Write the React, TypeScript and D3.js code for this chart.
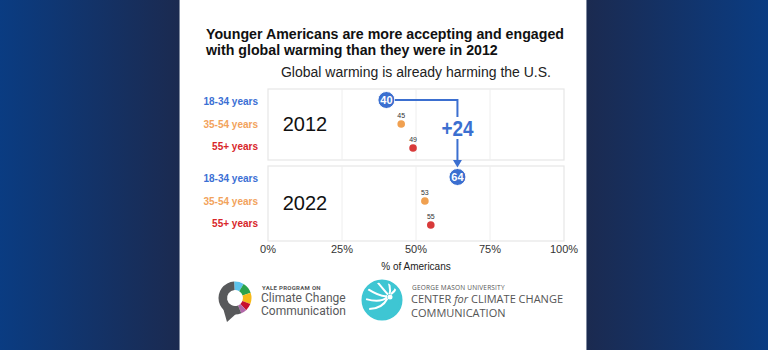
import React from "react";
import * as d3 from "d3";

const ages = ["18-34 years", "35-54 years", "55+ years"];
const years = ["2012", "2022"];
const values2012 = [40, 45, 49];
const values2022 = [64, 53, 55];
const ticks = [0, 25, 50, 75, 100];
const ageColors = ["#3f6fcf", "#f0a050", "#d83a3a"];
const labelColors = ["#3b6fd4", "#f2a35c", "#d8262a"];

const W = 768;
const H = 350;

export default function App() {
  const x = d3.scaleLinear().domain([0, 100]).range([268, 564]);
  const panels = [
    { top: 89, bottom: 160, values: values2012, year: years[0] },
    { top: 166, bottom: 241, values: values2022, year: years[1] },
  ];
  const rowScale = (p: { top: number }) =>
    d3.scalePoint<string>().domain(ages).range([p.top + 11, p.top + 59]);

  const y1 = rowScale(panels[0]);
  const y2 = rowScale(panels[1]);
  const startX = x(values2012[0]);
  const startY = y1(ages[0])!;
  const endX = x(values2022[0]);
  const endY = y2(ages[0])!;
  const diff = values2022[0] - values2012[0];
  const blue = "#3b6fd0";

  const font = "Liberation Sans, Arial, sans-serif";

  const ringArc = d3.arc<any>().innerRadius(8).outerRadius(16.5);
  const ringSegs = [
    { s: -0.05, e: 0.55, c: "#5cc3ec" },
    { s: 0.55, e: 1.25, c: "#2ba24c" },
    { s: 1.25, e: 1.95, c: "#f6b918" },
    { s: 1.95, e: 2.4, c: "#c8102e" },
    { s: 2.4, e: 2.75, c: "#b267a8" },
    { s: 2.75, e: 6.23, c: "#58595b" },
  ];

  return (
    <svg
      width={W}
      height={H}
      style={{ position: "absolute", left: 0, top: 0 }}
      fontFamily={font}
    >
      <defs>
        <linearGradient id="bgL" x1="0" x2="1" y1="0" y2="0">
          <stop offset="0%" stopColor="#0a3c82" />
          <stop offset="100%" stopColor="#1b2a50" />
        </linearGradient>
        <linearGradient id="bgR" x1="0" x2="1" y1="0" y2="0">
          <stop offset="0%" stopColor="#1b2a50" />
          <stop offset="100%" stopColor="#0a3c82" />
        </linearGradient>
      </defs>
      <rect x={0} y={0} width={180} height={H} fill="url(#bgL)" />
      <rect x={586} y={0} width={W - 586} height={H} fill="url(#bgR)" />
      <rect x={180} y={0} width={406} height={H} fill="#ffffff" />
      <line x1={179.5} x2={179.5} y1={0} y2={H} stroke="#7f8aa0" strokeWidth={1} />
      <line x1={586.5} x2={586.5} y1={0} y2={H} stroke="#7f8aa0" strokeWidth={1} />

      {/* Title */}
      <text x={206} y={38.5} fontSize={14.2} fontWeight="bold" fill="#111">
        Younger Americans are more accepting and engaged
      </text>
      <text x={206} y={55} fontSize={14.2} fontWeight="bold" fill="#111">
        with global warming than they were in 2012
      </text>
      <text x={416} y={77} fontSize={14} textAnchor="middle" fill="#222">
        Global warming is already harming the U.S.
      </text>

      {/* Panels */}
      {panels.map((p) => {
        const yS = rowScale(p);
        return (
          <g key={p.year}>
            <rect
              x={x(0)}
              y={p.top}
              width={x(100) - x(0)}
              height={p.bottom - p.top}
              fill="#fff"
              stroke="#e6e6e6"
              strokeWidth={1.2}
            />
            {ticks.slice(1, -1).map((t) => (
              <line
                key={t}
                x1={x(t)}
                x2={x(t)}
                y1={p.top}
                y2={p.bottom}
                stroke="#eeeeee"
                strokeWidth={1}
              />
            ))}
            <text
              x={305}
              y={(p.top + p.bottom) / 2 + 6.5}
              fontSize={20}
              textAnchor="middle"
              fill="#111"
            >
              {p.year}
            </text>
            {ages.map((a, i) => (
              <text
                key={a}
                x={258}
                y={yS(a)! + 4 - (i === 2 ? 2 : 0) + (i === 0 ? 1 : 0)}
                fontSize={10}
                fontWeight="bold"
                textAnchor="end"
                fill={labelColors[i]}
              >
                {a}
              </text>
            ))}
            {ages.map((a, i) => {
              const v = p.values[i];
              const cx = x(v);
              const cy = yS(a)!;
              if (i === 0) {
                return (
                  <g key={a}>
                    <circle cx={cx} cy={cy} r={8.5} fill={blue} stroke="#fff" strokeWidth={1} />
                    <text
                      x={cx}
                      y={cy + 4}
                      fontSize={11}
                      fontWeight="bold"
                      textAnchor="middle"
                      fill="#fff"
                    >
                      {v}
                    </text>
                  </g>
                );
              }
              return (
                <g key={a}>
                  <circle cx={cx} cy={cy} r={3.8} fill={ageColors[i]} />
                  <text x={cx} y={cy - 6} fontSize={7} textAnchor="middle" fill="#333">
                    {v}
                  </text>
                </g>
              );
            })}
          </g>
        );
      })}

      {/* Connector */}
      <path
        d={`M${startX + 8.5},${startY} H${endX} V${startY + 17}`}
        fill="none"
        stroke={blue}
        strokeWidth={2}
      />
      <path
        d={`M${endX},${startY + 39} V${endY - 16}`}
        fill="none"
        stroke={blue}
        strokeWidth={2}
      />
      <path
        d={`M${endX - 4.5},${endY - 17} L${endX + 4.5},${endY - 17} L${endX},${endY - 9.5} Z`}
        fill={blue}
      />
      <text
        x={endX}
        y={startY + 36}
        fontSize={22}
        fontWeight="bold"
        textAnchor="middle"
        fill={blue}
        textLength={32}
        lengthAdjust="spacingAndGlyphs"
      >
        {`+${diff}`}
      </text>

      {/* Axis */}
      {ticks.map((t) => (
        <text key={t} x={x(t)} y={253} fontSize={11} textAnchor="middle" fill="#333">
          {`${t}%`}
        </text>
      ))}
      <text x={x(50)} y={270} fontSize={10} textAnchor="middle" fill="#222">
        % of Americans
      </text>

      {/* Yale logo */}
      <g transform="translate(235,298)">
        <path d="M-12,10 L-8,24 L2,15 Z" fill="#58595b" />
        {ringSegs.map((s, i) => (
          <path key={i} d={ringArc({ startAngle: s.s, endAngle: s.e }) as string} fill={s.c} />
        ))}
      </g>
      <text x={262} y={290} fontSize={6} fontWeight="bold" fill="#555" fontFamily="Roboto, sans-serif" letterSpacing={0.3}>
        YALE PROGRAM ON
      </text>
      <text x={261} y={301.5} fontSize={12} fill="#58595b" fontFamily="Roboto, sans-serif">
        Climate Change
      </text>
      <text x={261} y={315} fontSize={12} fill="#58595b" fontFamily="Roboto, sans-serif">
        Communication
      </text>

      {/* GMU logo */}
      <g transform="translate(382,300)">
        <circle r={19} fill="#3ec6d3" />
        {[-160, -130, -100, -70, 150, 175].map((a, i) => {
          const r0 = 3;
          const rad = (a * Math.PI) / 180;
          const x0 = 8 + r0 * Math.cos(rad);
          const y0 = -3 + r0 * Math.sin(rad);
          const xe = 8 + 24 * Math.cos(rad);
          const ye = -3 + 24 * Math.sin(rad);
          return (
            <path
              key={i}
              d={`M${x0},${y0} Q${(x0 + xe) / 2 + 4},${(y0 + ye) / 2 + 5} ${xe},${ye}`}
              fill="none"
              stroke="#fff"
              strokeWidth={2}
            />
          );
        })}
        <circle cx={8} cy={-3} r={2.5} fill="#fff" />
        <circle r={19} fill="none" stroke="#3ec6d3" strokeWidth={3} />
      </g>
      <text x={412} y={289.5} fontSize={6.5} fill="#555" fontFamily="Open Sans, sans-serif" letterSpacing={0.2}>
        GEORGE MASON UNIVERSITY
      </text>
      <text x={411} y={303} fontSize={11} fill="#555" fontFamily="Open Sans, sans-serif">
        CENTER <tspan fontStyle="italic">for</tspan> CLIMATE CHANGE
      </text>
      <text x={411} y={317} fontSize={11} fill="#555" fontFamily="Open Sans, sans-serif">
        COMMUNICATION
      </text>
    </svg>
  );
}
